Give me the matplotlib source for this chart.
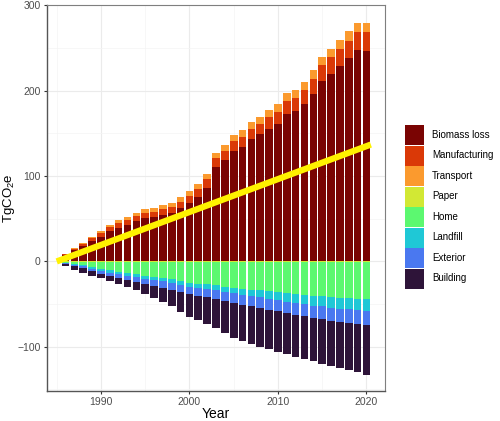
import numpy as np
import matplotlib
matplotlib.use("Agg")
import matplotlib.pyplot as plt
from matplotlib.patches import Patch

plt.rcParams['font.family'] = ['Liberation Sans', 'DejaVu Sans']
plt.rcParams['mathtext.default'] = 'regular'

years = list(range(1986, 2021))

# positive sources (TgCO2e)
biomass_loss = [7.5, 13, 18, 23.5, 29, 35.5, 39.5, 43, 47, 50.5, 52, 54.5, 56.5, 62.5, 68.5,
                76, 86, 110.5, 119, 129, 134, 143, 149, 155.5, 161, 173, 176, 184, 196.5, 212,
                220, 229, 239, 248, 247]
manufacturing = [1, 2, 2.5, 3.5, 4, 4.5, 5, 5.5, 6, 6.5, 6.5, 7, 7, 7.5, 8,
                 9, 11, 10.5, 11, 12, 12, 12.5, 12, 13.5, 14, 15, 16, 16.5, 17.5, 18.5,
                 19.5, 19.5, 19, 20.5, 21.5]
transport = [0.5, 1, 1.5, 2, 3, 3, 3.5, 3.5, 4, 4, 4, 4.5, 4.5, 5, 5.5,
             6, 6, 6, 7, 7, 8, 8.5, 8, 8, 10, 9, 9, 9.5, 10, 9.5,
             9.5, 10.5, 12, 11.5, 11.5]

# sinks (negative)
paper = [-0.3, -0.4, -0.4, -0.5, -0.5, -0.5, -0.6, -0.6, -0.6, -0.7, -0.7, -0.7, -0.8, -0.8, -0.8,
         -0.9, -0.9, -0.9, -1, -1, -1, -1, -1, -1, -1, -1, -1, -1, -1, -1,
         -1, -1, -1, -1, -1]
home = [-1, -2.5, -4, -6.5, -8.5, -10, -11.5, -13, -14.5, -16, -17, -18.5, -20, -22, -24,
        -25, -26, -27, -28.5, -30, -31, -32, -33, -34, -35, -36.5, -37.5, -38.5, -39.5, -40,
        -41, -41.5, -42, -42.5, -43]
landfill = [-0.5, -1, -1.5, -2, -2.5, -2.8, -3, -3.3, -3.6, -3.8, -4, -4.2, -4.4, -4.6, -4.8,
            -5, -5.2, -5.5, -6, -6.5, -7, -7.5, -8, -8.5, -9, -9.5, -10, -10.6, -11.2, -11.8,
            -12.3, -12.8, -13.3, -13.9, -14.4]
exterior = [-1, -1.5, -2, -2.7, -3.5, -4, -4.5, -5, -5.5, -6, -7, -7.5, -8, -8.5, -9,
            -9.5, -10, -11, -11.3, -11.6, -12, -12.3, -12.6, -13, -13.2, -13.5, -14, -14.3, -14.7, -15,
            -15.4, -15.7, -16, -16.3, -16.6]
building = [-3, -5, -5.5, -5.3, -5, -6.2, -7, -7.7, -9.4, -11.2, -14, -16.8, -19.6, -22.9, -26.2,
            -28.5, -31.8, -34, -37.2, -40.9, -42, -44.2, -45.4, -46, -47.8, -48.5, -49.5, -49.6, -50.6, -52.2,
            -52.3, -54, -55.2, -56.3, -57.6]

# net trend line
trend_years = [1985, 2020.5]
trend_values = [0, 137]

categories = ["Biomass loss", "Manufacturing", "Transport", "Paper",
              "Home", "Landfill", "Exterior", "Building"]
colors = ["#7A0403", "#DA3907", "#FB9A2E", "#D2E834",
          "#5CF870", "#1FC8D6", "#4A78F0", "#2E1439"]
series = [biomass_loss, manufacturing, transport, paper, home, landfill, exterior, building]

fig = plt.figure(figsize=(5.0, 4.21), dpi=100)
ax = fig.add_axes([0.094, 0.071, 0.676, 0.917])

x = np.array(years)
pos_base = np.zeros(len(years))
neg_base = np.zeros(len(years))
for vals, col in zip(series, colors):
    v = np.array(vals, dtype=float)
    base = np.where(v >= 0, pos_base, neg_base)
    ax.bar(x, v, bottom=base, width=0.86, color=col, edgecolor='none', zorder=2)
    pos_base = pos_base + np.clip(v, 0, None)
    neg_base = neg_base + np.clip(v, None, 0)

ax.plot(trend_years, trend_values, color='#FFF200', lw=4.5, solid_capstyle='butt', zorder=3)

ax.set_xlim(1983.9, 2022.1)
ax.set_ylim(-152, 300.5)
ax.set_xticks([1990, 2000, 2010, 2020])
ax.set_xticks([1985, 1995, 2005, 2015], minor=True)
ax.set_yticks([-100, 0, 100, 200, 300])
ax.set_yticks([-150, -50, 50, 150, 250], minor=True)
ax.set_yticklabels(["\u2212100", "0", "100", "200", "300"])
ax.grid(True, which='major', color='#EBEBEB', lw=0.8, zorder=0)
ax.grid(True, which='minor', color='#F4F4F4', lw=0.5, zorder=0)
ax.tick_params(axis='both', which='major', labelsize=7.5, labelcolor='#4D4D4D',
               color='#333333', length=2.5, width=0.8, pad=2)
ax.tick_params(axis='both', which='minor', length=0)
for side in ['top', 'right']:
    ax.spines[side].set_color('#7F7F7F')
    ax.spines[side].set_linewidth(0.8)
for side in ['left', 'bottom']:
    ax.spines[side].set_color('#555555')
    ax.spines[side].set_linewidth(1.0)

ax.set_xlabel("Year", fontsize=10)
ax.set_ylabel("TgCO$_2$e", fontsize=9.5)
ax.xaxis.set_label_coords(0.5, -0.041)
ax.yaxis.set_label_coords(-0.09, 0.5)

handles = [Patch(facecolor=c, edgecolor='none') for c in colors]
fig.legend(handles, categories, loc='upper left', bbox_to_anchor=(0.81, 0.703),
           frameon=False, fontsize=7, handlelength=1.96, handleheight=2.79,
           labelspacing=0.05, handletextpad=0.83, borderaxespad=0, borderpad=0)

fig.savefig("out.png", dpi=100)
